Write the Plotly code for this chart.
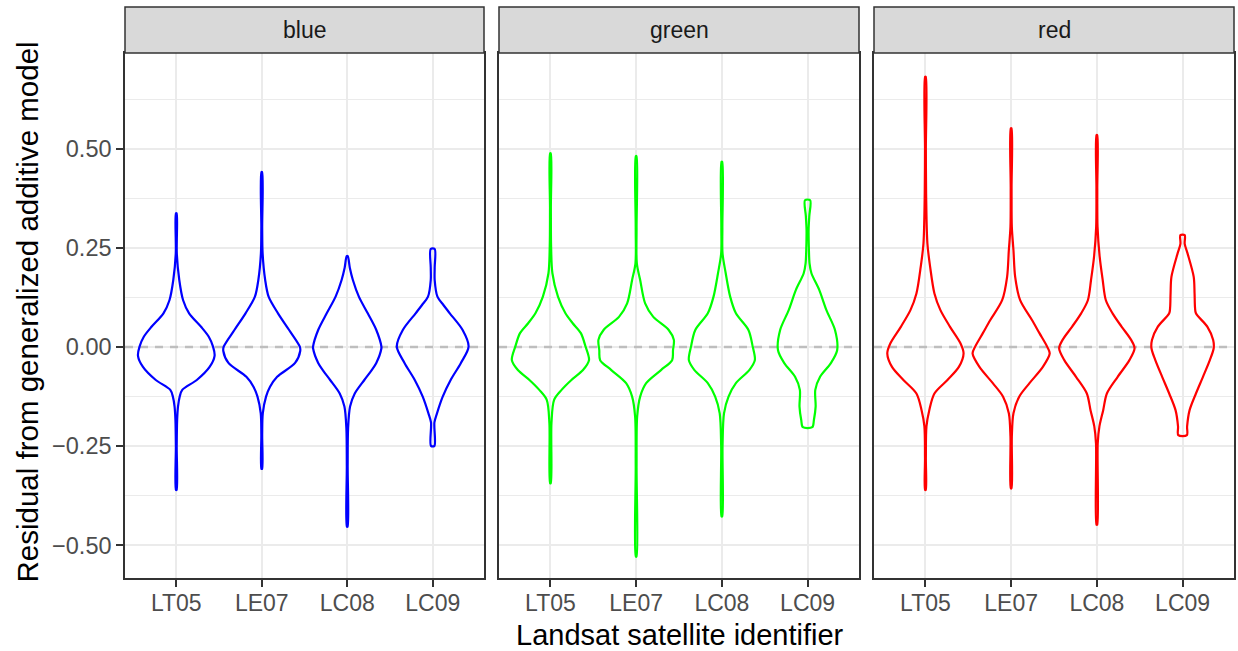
import plotly.graph_objects as go

W, H = 1238, 651

satellites = ["LT05", "LE07", "LC08", "LC09"]
bands = ["blue", "green", "red"]
band_colors = ["#0000FF", "#00FF00", "#FF0000"]
y_tick_vals = [-0.5, -0.25, 0.0, 0.25, 0.5]
y_tick_text = ["\u22120.50", "\u22120.25", "0.00", "0.25", "0.50"]
y_minor_vals = [-0.375, -0.125, 0.125, 0.375, 0.625]

# Violin outlines: residual level (y) and half-width (category units)
blue_LT05_y = [0.337, 0.236, 0.169, 0.118, 0.085, 0.051, 0.026, 0.001, -0.022, -0.05, -0.083, -0.108, -0.125, -0.15, -0.184, -0.25, -0.36]
blue_LT05_w = [0.004, 0.006, 0.035, 0.08, 0.15, 0.29, 0.38, 0.43, 0.448, 0.39, 0.24, 0.07, 0.04, 0.02, 0.01, 0.005, 0.004]
blue_LE07_y = [0.441, 0.3, 0.236, 0.169, 0.127, 0.085, 0.043, 0.001, -0.01, -0.04, -0.075, -0.1, -0.125, -0.167, -0.22, -0.307]
blue_LE07_w = [0.004, 0.005, 0.01, 0.04, 0.08, 0.19, 0.32, 0.445, 0.45, 0.39, 0.18, 0.097, 0.05, 0.012, 0.005, 0.004]
blue_LC08_y = [0.229, 0.2, 0.169, 0.127, 0.085, 0.043, 0.001, -0.003, -0.04, -0.06, -0.083, -0.117, -0.15, -0.205, -0.3, -0.453]
blue_LC08_w = [0.006, 0.03, 0.066, 0.136, 0.24, 0.34, 0.4, 0.4, 0.34, 0.28, 0.2, 0.088, 0.033, 0.01, 0.005, 0.004]
blue_LC09_y = [0.247, 0.2, 0.169, 0.127, 0.106, 0.085, 0.043, 0.001, -0.04, -0.083, -0.125, -0.167, -0.19, -0.249]
blue_LC09_w = [0.023, 0.023, 0.023, 0.055, 0.125, 0.2, 0.35, 0.42, 0.33, 0.21, 0.117, 0.05, 0.02, 0.02]

green_LT05_y = [0.488, 0.35, 0.253, 0.186, 0.127, 0.085, 0.06, 0.035, 0.001, -0.033, -0.058, -0.083, -0.108, -0.133, -0.192, -0.343]
green_LT05_w = [0.004, 0.005, 0.008, 0.023, 0.088, 0.175, 0.26, 0.355, 0.41, 0.45, 0.38, 0.245, 0.13, 0.043, 0.012, 0.004]
green_LE07_y = [0.481, 0.3, 0.211, 0.169, 0.11, 0.076, 0.043, 0.018, -0.008, -0.033, -0.058, -0.091, -0.125, -0.175, -0.3, -0.528]
green_LE07_w = [0.004, 0.005, 0.008, 0.047, 0.105, 0.2, 0.38, 0.44, 0.43, 0.42, 0.29, 0.117, 0.047, 0.012, 0.005, 0.004]
green_LC08_y = [0.467, 0.3, 0.236, 0.186, 0.127, 0.085, 0.043, 0.001, -0.033, -0.058, -0.091, -0.125, -0.167, -0.25, -0.427]
green_LC08_w = [0.004, 0.006, 0.008, 0.045, 0.097, 0.164, 0.31, 0.36, 0.385, 0.32, 0.164, 0.078, 0.025, 0.008, 0.004]
green_LC09_y = [0.37, 0.33, 0.295, 0.25, 0.211, 0.186, 0.144, 0.093, 0.043, -0.008, -0.041, -0.075, -0.108, -0.15, -0.184, -0.202]
green_LC09_w = [0.03, 0.02, 0.012, 0.015, 0.023, 0.045, 0.136, 0.22, 0.32, 0.345, 0.27, 0.146, 0.09, 0.094, 0.074, 0.055]

red_LT05_y = [0.681, 0.5, 0.387, 0.261, 0.202, 0.135, 0.093, 0.051, 0.009, -0.016, -0.05, -0.083, -0.117, -0.159, -0.2, -0.28, -0.36]
red_LT05_w = [0.004, 0.005, 0.008, 0.023, 0.055, 0.105, 0.175, 0.287, 0.41, 0.445, 0.39, 0.257, 0.105, 0.045, 0.012, 0.005, 0.004]
red_LE07_y = [0.551, 0.4, 0.303, 0.244, 0.177, 0.118, 0.068, 0.035, 0.001, -0.016, -0.05, -0.091, -0.125, -0.167, -0.226, -0.356]
red_LE07_w = [0.004, 0.005, 0.008, 0.027, 0.047, 0.105, 0.243, 0.33, 0.42, 0.45, 0.37, 0.214, 0.094, 0.027, 0.008, 0.004]
red_LC08_y = [0.534, 0.4, 0.303, 0.227, 0.169, 0.118, 0.085, 0.051, 0.018, -0.003, -0.033, -0.075, -0.117, -0.159, -0.2, -0.243, -0.448]
red_LC08_w = [0.004, 0.005, 0.008, 0.033, 0.068, 0.105, 0.183, 0.29, 0.4, 0.44, 0.38, 0.243, 0.117, 0.074, 0.03, 0.01, 0.004]
red_LC09_y = [0.282, 0.26, 0.236, 0.177, 0.135, 0.1, 0.085, 0.051, 0.018, -0.003, -0.033, -0.075, -0.117, -0.159, -0.2, -0.222]
red_LC09_w = [0.025, 0.025, 0.058, 0.13, 0.14, 0.145, 0.156, 0.29, 0.357, 0.363, 0.318, 0.238, 0.156, 0.082, 0.053, 0.05]

profiles = {
    "blue": [(blue_LT05_y, blue_LT05_w), (blue_LE07_y, blue_LE07_w), (blue_LC08_y, blue_LC08_w), (blue_LC09_y, blue_LC09_w)],
    "green": [(green_LT05_y, green_LT05_w), (green_LE07_y, green_LE07_w), (green_LC08_y, green_LC08_w), (green_LC09_y, green_LC09_w)],
    "red": [(red_LT05_y, red_LT05_w), (red_LE07_y, red_LE07_w), (red_LC08_y, red_LC08_w), (red_LC09_y, red_LC09_w)],
}

FONT = "Liberation Sans, Arial, sans-serif"

# panel geometry in pixels
panels_px = [(125, 484), (499, 859), (874, 1234)]
panel_top, panel_bot = 53, 578
strip_top = 7

def px_x(p):
    return p / W

def px_y(p):
    return 1 - p / H

fig = go.Figure()

for i, band in enumerate(bands):
    xa = "x" if i == 0 else f"x{i+1}"
    ya = "y" if i == 0 else f"y{i+1}"
    # dashed zero line
    fig.add_trace(go.Scatter(
        x=[0.4, 4.6], y=[0, 0], mode="lines", xaxis=xa, yaxis=ya,
        line=dict(color="#BEBEBE", width=2.5, dash="8px,7px"),
        hoverinfo="skip", showlegend=False))
    for j, (ys, ws) in enumerate(profiles[band]):
        c = j + 1
        xs = [c - w for w in ws] + [c + w for w in reversed(ws)] + [c - ws[0]]
        yy = list(ys) + list(reversed(ys)) + [ys[0]]
        fig.add_trace(go.Scatter(
            x=xs, y=yy, mode="lines", xaxis=xa, yaxis=ya,
            line=dict(color=band_colors[i], width=2.2, shape="spline", smoothing=0.85),
            hoverinfo="skip", showlegend=False))

layout = dict(
    width=W, height=H,
    margin=dict(l=0, r=0, t=0, b=0),
    paper_bgcolor="white", plot_bgcolor="white",
    font=dict(family=FONT, size=23, color="#4D4D4D"),
    showlegend=False,
)

ydom = [px_y(panel_bot), px_y(panel_top)]
for i, (x0, x1) in enumerate(panels_px):
    xk = "xaxis" if i == 0 else f"xaxis{i+1}"
    yk = "yaxis" if i == 0 else f"yaxis{i+1}"
    ya = "y" if i == 0 else f"y{i+1}"
    xa = "x" if i == 0 else f"x{i+1}"
    layout[xk] = dict(
        domain=[px_x(x0), px_x(x1)], anchor=ya, range=[0.4, 4.6],
        tickvals=[1, 2, 3, 4], ticktext=satellites,
        showgrid=True, gridcolor="#EBEBEB", gridwidth=2,
        zeroline=False, showline=True, mirror=True, linecolor="#333333", linewidth=1.5,
        ticks="outside", ticklen=7, tickwidth=2, tickcolor="#333333",
        ticklabelstandoff=-3,
        tickfont=dict(family=FONT, size=23, color="#4D4D4D"),
        automargin=False, fixedrange=True,
    )
    layout[yk] = dict(
        domain=ydom, anchor=xa, range=[-0.582, 0.741],
        tickvals=y_tick_vals, ticktext=y_tick_text,
        showticklabels=(i == 0),
        ticks="outside" if i == 0 else "", ticklen=7, tickwidth=2, tickcolor="#333333",
        showgrid=True, gridcolor="#EBEBEB", gridwidth=2,
        minor=dict(tickvals=y_minor_vals, showgrid=True, gridcolor="#EBEBEB", gridwidth=1, ticks=""),
        zeroline=False, showline=True, mirror=True, linecolor="#333333", linewidth=1.5,
        tickfont=dict(family=FONT, size=23.5, color="#4D4D4D"),
        automargin=False, fixedrange=True,
    )
    if i > 0:
        layout[yk]["matches"] = "y"

shapes = []
annotations = []
for i, (x0, x1) in enumerate(panels_px):
    shapes.append(dict(
        type="rect", xref="paper", yref="paper",
        x0=px_x(x0), x1=px_x(x1), y0=px_y(panel_top), y1=px_y(strip_top),
        fillcolor="#D9D9D9", line=dict(color="#333333", width=1.5), layer="above"))
    annotations.append(dict(
        text=bands[i], xref="paper", yref="paper",
        x=(px_x(x0) + px_x(x1)) / 2, y=(px_y(panel_top) + px_y(strip_top)) / 2,
        xanchor="center", yanchor="middle", showarrow=False,
        font=dict(family=FONT, size=23, color="#1A1A1A")))

annotations.append(dict(
    text="Landsat satellite identifier", xref="paper", yref="paper",
    x=px_x((125 + 1234) / 2), y=px_y(635), xanchor="center", yanchor="middle",
    showarrow=False, font=dict(family=FONT, size=29, color="black")))
annotations.append(dict(
    text="Residual from generalized additive model", xref="paper", yref="paper",
    x=px_x(27), y=px_y((panel_top + panel_bot) / 2 - 3), xanchor="center", yanchor="middle",
    textangle=-90, showarrow=False, font=dict(family=FONT, size=29.5, color="black")))

layout["shapes"] = shapes
layout["annotations"] = annotations
fig.update_layout(**layout)

fig.write_html("out.html")
